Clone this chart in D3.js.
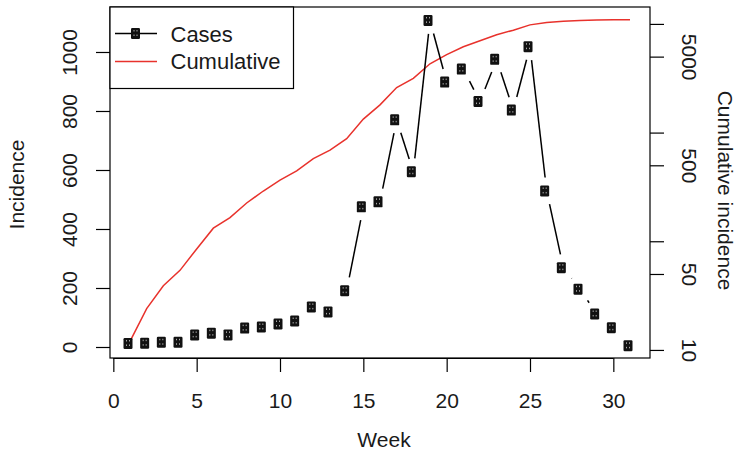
<!DOCTYPE html>
<html><head><meta charset="utf-8">
<script src="https://cdn.jsdelivr.net/npm/d3@7"></script>
<style>
body{margin:0;background:#fff}
svg{display:block}
text{font-family:"Liberation Sans",Arial,Helvetica,sans-serif;fill:#1a1a1a}
</style>
</head><body><svg id="c" width="739" height="452"></svg>
<script>
const weeks = [1,2,3,4,5,6,7,8,9,10,11,12,13,14,15,16,17,18,19,20,21,22,23,24,25,26,27,28,29,30,31];
const cases = [12,13,16,16,41,47,41,64,68,78,88,136,119,191,475,492,770,594,1107,898,942,832,975,803,1018,529,269,196,112,65,4];
const cumulative = [12,24,39,54,85,132,165,225,290,365,445,575,690,880,1330,1800,2600,3150,4300,5220,6170,7000,7950,8760,9800,10300,10570,10740,10850,10900,10910];
const xTicks = [0,5,10,15,20,25,30];
const yLeftTicks = [0,200,400,600,800,1000];
const yRightTicks = [10,50,100,500,1000,5000,10000];
const yRightLabels = [10,50,500,5000];
const seriesNames = ["Cases","Cumulative"];

const svg = d3.select("#c");
const L=110, R=650, T=7, B=358;
const x = d3.scaleLinear().domain([-0.2,32.2]).range([L,R]);
const yL = d3.scaleLinear().domain([-37.3,1152.5]).range([B,T]);
const yR = d3.scaleLog().domain([8.43,14310]).range([B,T]);
const FS = 21;

// cumulative red line
svg.append("path")
  .datum(weeks.map((w,i)=>[w,cumulative[i]]))
  .attr("fill","none").attr("stroke","#e8322c").attr("stroke-width",1.5)
  .attr("d", d3.line().x(d=>x(d[0])).y(d=>yR(d[1])));

// cases: type "b" segments with gaps
const pts = weeks.map((w,i)=>[x(w), yL(cases[i])]);
const gap = 13.5;
const segs = [];
for (let i=0;i<pts.length-1;i++){
  const [x1,y1]=pts[i],[x2,y2]=pts[i+1];
  const dx=x2-x1, dy=y2-y1, len=Math.hypot(dx,dy);
  if (len>2*gap){
    const ux=dx/len, uy=dy/len;
    segs.push([x1+ux*gap,y1+uy*gap,x2-ux*gap,y2-uy*gap]);
  }
}
svg.append("g").selectAll("line").data(segs).join("line")
  .attr("x1",d=>d[0]).attr("y1",d=>d[1]).attr("x2",d=>d[2]).attr("y2",d=>d[3])
  .attr("stroke","#000").attr("stroke-width",1.5);

function marker(g){
  g.append("rect").attr("x",-6.5).attr("y",-5.5).attr("width",9).attr("height",11).attr("rx",1.2).attr("fill","#111");
  [[-4,-3.5],[-1,-3.5],[-4,1],[-1,1]].forEach(p=>{
    g.append("rect").attr("x",p[0]).attr("y",p[1]).attr("width",1).attr("height",1.5).attr("fill","#aaa");
  });
}
svg.append("g").selectAll("g").data(pts).join("g")
  .attr("transform",d=>`translate(${d[0]},${d[1]})`)
  .each(function(){ marker(d3.select(this)); });

// box
svg.append("rect").attr("x",L).attr("y",T).attr("width",R-L).attr("height",B-T)
  .attr("fill","none").attr("stroke","#000").attr("stroke-width",1.2);

// x axis
const gx = svg.append("g").attr("transform",`translate(0,${B})`)
  .call(d3.axisBottom(x).tickValues(xTicks).tickSize(14).tickFormat(d3.format("d")));
gx.select(".domain").attr("d",`M${x(0)},0.5H${x(30)}`).attr("stroke-width",1.2);
gx.selectAll("line").attr("stroke-width",1.2);
gx.selectAll("text").attr("y",50).attr("dy",null).attr("font-size",FS).attr("font-family",null).attr("fill","#1a1a1a");

// left axis
const gl = svg.append("g").attr("transform",`translate(${L},0)`)
  .call(d3.axisLeft(yL).tickValues(yLeftTicks).tickSize(14).tickFormat(d3.format("d")));
gl.select(".domain").remove();
gl.selectAll("line").attr("stroke-width",1.2);
gl.selectAll("text").attr("x",0).attr("dy",null).attr("text-anchor","middle")
  .attr("transform","translate(-33.5,0) rotate(-90)").attr("font-size",FS).attr("font-family",null).attr("fill","#1a1a1a");

// right axis
const gr = svg.append("g").attr("transform",`translate(${R},0)`)
  .call(d3.axisRight(yR).tickValues(yRightTicks).tickSize(14)
    .tickFormat(d=>yRightLabels.includes(d)?String(d):""));
gr.select(".domain").remove();
gr.selectAll("line").attr("stroke-width",1.2);
gr.selectAll("text").attr("x",0).attr("dy",null).attr("text-anchor","middle")
  .attr("transform","translate(31.5,0) rotate(90)").attr("font-size",FS).attr("font-family",null).attr("fill","#1a1a1a");

// titles
svg.append("text").attr("x",(L+R)/2+4).attr("y",447).attr("text-anchor","middle").attr("font-size",FS).text("Week");
svg.append("text").attr("transform",`translate(23.5,${(T+B)/2+2}) rotate(-90)`).attr("text-anchor","middle").attr("font-size",FS).text("Incidence");
svg.append("text").attr("transform",`translate(718,${(T+B)/2+8}) rotate(90)`).attr("text-anchor","middle").attr("font-size",FS).text("Cumulative incidence");

// legend
const lg = svg.append("g");
lg.append("rect").attr("x",L).attr("y",T).attr("width",183.5).attr("height",81.5)
  .attr("fill","#fff").attr("stroke","#000").attr("stroke-width",1.2);
lg.append("line").attr("x1",115).attr("x2",157).attr("y1",33.5).attr("y2",33.5).attr("stroke","#000").attr("stroke-width",1.5);
marker(lg.append("g").attr("transform","translate(137.5,33.5)"));
lg.append("line").attr("x1",115).attr("x2",157).attr("y1",61.5).attr("y2",61.5).attr("stroke","#e8322c").attr("stroke-width",1.5);
lg.selectAll("text.lab").data(seriesNames).join("text").attr("class","lab")
  .attr("x",170.5).attr("y",(d,i)=>41.5+i*27).attr("font-size",22).text(d=>d);
</script></body></html>
